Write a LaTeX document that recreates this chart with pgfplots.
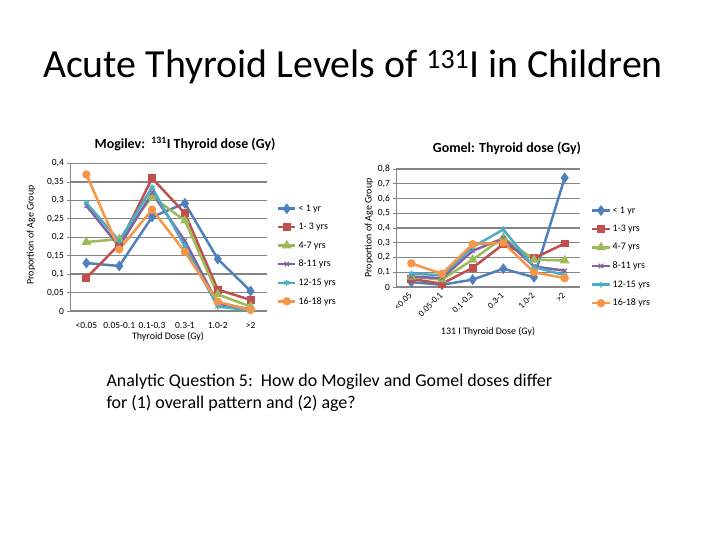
\documentclass[border=0pt]{standalone}
\usepackage{fontspec}
\setmainfont{Carlito}
\usepackage{pgfplots}
\pgfplotsset{compat=1.18}
\definecolor{cA}{HTML}{4F81BD}
\definecolor{cB}{HTML}{C0504D}
\definecolor{cC}{HTML}{9BBB59}
\definecolor{cD}{HTML}{8064A2}
\definecolor{cE}{HTML}{4BACC6}
\definecolor{cF}{HTML}{F79646}
\definecolor{gridgray}{RGB}{134,134,134}
\pgfplotsset{
  excel/.style={
    scale only axis,
    axis x line=bottom, axis y line=left,
    axis line style={-, draw=gridgray, line width=0.8pt},
    ymajorgrids, grid style={draw=gridgray, line width=1.3pt},
    xmin=-0.5, xmax=5.5, xtick={0,...,5},
    xtick style={draw=none}, ytick style={draw=gridgray, line width=0.8pt},
    tick align=outside, major tick length=3bp,
    tick label style={font=\fontsize{9.5}{10}\selectfont},
    yticklabel style={inner sep=1.5bp, xshift=-1.5bp},
    legend cell align=left,
    legend style={draw=none, fill=none, inner sep=0pt, font=\fontsize{10}{11}\selectfont, row sep=6.5bp},
    every axis plot/.append style={line width=2.5pt, mark size=2.6pt},
  },
  sA/.style={cA, mark=diamond*, mark size=3.4pt, mark options={solid, fill=cA}},
  sB/.style={cB, mark=square*, mark size=2.7pt, mark options={solid, fill=cB}},
  sC/.style={cC, mark=triangle*, mark size=3.2pt, mark options={solid, fill=cC}},
  sD/.style={cD, mark=x, mark size=3pt, mark options={solid, line width=1.2pt}},
  sE/.style={cE, mark=asterisk, mark size=3pt, mark options={solid, line width=1.2pt}},
  sF/.style={cF, mark=*, mark size=2.9pt, mark options={solid, fill=cF}},
}
\begin{document}
\begin{tikzpicture}[x=1bp,y=1bp]
\fill[white] (0,0) rectangle (720,540);
\node[anchor=base, font=\fontsize{40}{44}\selectfont] at (353,462) {Acute Thyroid Levels of \textsuperscript{131}I in Children};

% ---------- Mogilev ----------
\begin{axis}[excel, at={(70bp,229bp)}, anchor=south west,
  width=197bp, height=147.5bp,
  ymin=0, ymax=0.4,
  ytick={0,0.05,0.1,0.15,0.2,0.25,0.3,0.35,0.4},
  yticklabels={0,{0,05},{0,1},{0,15},{0,2},{0,25},{0,3},{0,35},{0,4}},
  xticklabels={{<0.05}, {0.05-0.1}, {0.1-0.3}, {0.3-1}, {1.0-2}, {>2}},
  xticklabel style={yshift=-5bp},
  legend style={at={(1.05,0.735)}, anchor=north west},
]
\addplot[sA] coordinates {(0,0.13) (1,0.122) (2,0.255) (3,0.292) (4,0.141) (5,0.054)};
\addplot[sB] coordinates {(0,0.09) (1,0.18) (2,0.36) (3,0.265) (4,0.058) (5,0.03)};
\addplot[sC] coordinates {(0,0.187) (1,0.195) (2,0.31) (3,0.245) (4,0.045) (5,0.012)};
\addplot[sD] coordinates {(0,0.285) (1,0.175) (2,0.32) (3,0.19) (4,0.02) (5,0.005)};
\addplot[sE] coordinates {(0,0.293) (1,0.19) (2,0.335) (3,0.175) (4,0.012) (5,0.002)};
\addplot[sF] coordinates {(0,0.37) (1,0.167) (2,0.275) (3,0.16) (4,0.025) (5,0.003)};
\legend{{< 1 yr}, {1- 3 yrs}, {4-7 yrs}, {8-11 yrs}, {12-15 yrs}, {16-18 yrs}}
\end{axis}
\node[font=\bfseries\fontsize{14}{16}\selectfont, anchor=base] at (185,391) {Mogilev:\ \ \textsuperscript{131}I Thyroid dose (Gy)};
\node[font=\fontsize{10}{11}\selectfont, rotate=90] at (31,305) {Proportion of Age Group};
\node[font=\fontsize{10}{11}\selectfont] at (168,203) {Thyroid Dose (Gy)};

% ---------- Gomel ----------
\begin{axis}[excel, at={(396bp,253bp)}, anchor=south west,
  width=184bp, height=118bp,
  ymin=0, ymax=0.8,
  ytick={0,0.1,0.2,0.3,0.4,0.5,0.6,0.7,0.8},
  yticklabels={0,{0,1},{0,2},{0,3},{0,4},{0,5},{0,6},{0,7},{0,8}},
  xticklabels={{<0.05}, {0.05-0.1}, {0.1-0.3}, {0.3-1}, {1.0-2}, {>2}},
  xticklabel style={rotate=45, anchor=east, yshift=-2bp, font=\fontsize{9}{10}\selectfont},
  legend style={at={(1.06,0.70)}, anchor=north west},
]
\addplot[sA] coordinates {(0,0.033) (1,0.015) (2,0.05) (3,0.124) (4,0.066) (5,0.74)};
\addplot[sB] coordinates {(0,0.055) (1,0.022) (2,0.13) (3,0.29) (4,0.195) (5,0.295)};
\addplot[sC] coordinates {(0,0.07) (1,0.05) (2,0.185) (3,0.335) (4,0.185) (5,0.18)};
\addplot[sD] coordinates {(0,0.07) (1,0.06) (2,0.245) (3,0.33) (4,0.14) (5,0.11)};
\addplot[sE] coordinates {(0,0.09) (1,0.08) (2,0.27) (3,0.39) (4,0.135) (5,0.08)};
\addplot[sF] coordinates {(0,0.16) (1,0.09) (2,0.29) (3,0.30) (4,0.10) (5,0.06)};
\legend{{< 1 yr}, {1-3 yrs}, {4-7 yrs}, {8-11 yrs}, {12-15 yrs}, {16-18 yrs}}
\end{axis}
\node[font=\bfseries\fontsize{14}{16}\selectfont, anchor=base] at (507,387) {Gomel: Thyroid dose (Gy)};
\node[font=\fontsize{10}{11}\selectfont, rotate=90] at (369,312) {Proportion of Age Group};
\node[font=\fontsize{10}{11}\selectfont] at (488,208) {131 I Thyroid Dose (Gy)};

% ---------- Question ----------
\node[anchor=base west, font=\fontsize{18}{22}\selectfont] at (103,153) {Analytic Question 5:\ \ How do Mogilev and Gomel doses differ};
\node[anchor=base west, font=\fontsize{18}{22}\selectfont] at (103,131) {for (1) overall pattern and (2) age?};
\end{tikzpicture}
\end{document}
